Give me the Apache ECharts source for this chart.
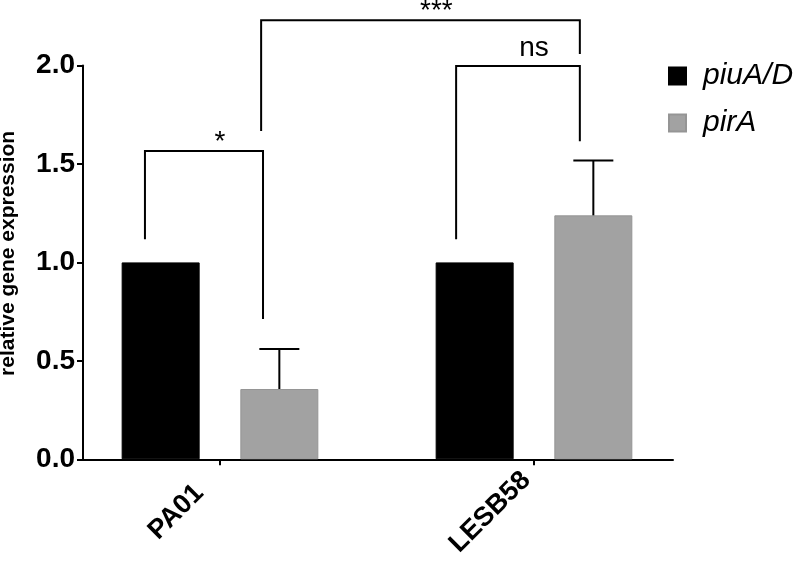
<!DOCTYPE html>
<html><head><meta charset="utf-8">
<script src="https://cdn.jsdelivr.net/npm/echarts@6/dist/echarts.min.js"></script>
<style>html,body{margin:0;padding:0;background:#fff}#c{width:800px;height:564px}</style>
</head><body><div id="c"></div>
<script>
// ---- data ----
const categories = ['PA01', 'LESB58'];
const seriesNames = ['piuA/D', 'pirA'];
const piuAD = [1.0, 1.0];
const piuADErr = [0, 0];
const pirA = [0.357, 1.239];
const pirAErr = [0.203, 0.279];
const yTickLabels = ['0.0', '0.5', '1.0', '1.5', '2.0'];
// significance brackets (x in category-index units, y in data units)
const sigText = ['*', 'ns', '***'];
const sigX1 = [-0.239, 0.752, 0.131];
const sigX2 = [0.137, 1.146, 1.146];
const sigTop = [1.566, 1.998, 2.23];
const sigLeg1 = [1.118, 1.118, 1.667];
const sigLeg2 = [0.712, 1.615, 2.058];
const sigTextX = [0, 1, 0.689];

// ---- layout constants ----
const FONT = 'Liberation Sans, Arial, Helvetica, sans-serif';
const barOffset = 0.189;
const colors = ['#000000', '#a2a2a2'];

const values = [piuAD, pirA];
const errs = [piuADErr, pirAErr];
const offs = [-barOffset, barOffset];

const barSeries = seriesNames.map((name, s) => ({
  name: name,
  type: 'bar',
  barWidth: 78,
  barGap: '-100%',
  itemStyle: { color: colors[s], borderColor: s === 1 ? '#959595' : '#000', borderWidth: 1 },
  data: categories.map((c, i) => [i + offs[s], values[s][i]]),
  z: 2
}));

const errData = [];
seriesNames.forEach((n, s) => categories.forEach((c, i) => {
  if (errs[s][i] > 0) errData.push([i + offs[s], values[s][i], errs[s][i]]);
}));

const errSeries = {
  type: 'custom',
  silent: true,
  z: 3,
  data: errData,
  renderItem: function (params, api) {
    const x = api.value(0), m = api.value(1), e = api.value(2);
    const p0 = api.coord([x, m]);
    const p1 = api.coord([x, m + e]);
    const st = { stroke: '#000', lineWidth: 2 };
    return {
      type: 'group',
      children: [
        { type: 'line', shape: { x1: p0[0], y1: p0[1], x2: p1[0], y2: p1[1] }, style: st },
        { type: 'line', shape: { x1: p1[0] - 20, y1: p1[1], x2: p1[0] + 20, y2: p1[1] }, style: st }
      ]
    };
  }
};

const sigData = sigText.map((t, k) => [sigX1[k], sigX2[k], sigTop[k], sigLeg1[k], sigLeg2[k], sigTextX[k], k]);
const sigSeries = {
  type: 'custom',
  silent: true,
  clip: false,
  z: 4,
  data: sigData,
  renderItem: function (params, api) {
    const x1 = api.value(0), x2 = api.value(1), top = api.value(2);
    const l1 = api.value(3), l2 = api.value(4), tx = api.value(5), k = api.value(6);
    const a = api.coord([x1, l1]);
    const b = api.coord([x1, top]);
    const c = api.coord([x2, top]);
    const d = api.coord([x2, l2]);
    const t = api.coord([tx, top]);
    const label = sigText[k];
    const isStar = label.indexOf('*') >= 0;
    return {
      type: 'group',
      children: [
        { type: 'polyline', shape: { points: [a, b, c, d] }, style: { stroke: '#000', lineWidth: 2, fill: null } },
        { type: 'text', x: t[0], y: t[1] + (isStar ? -9 : -18),
          style: { text: label, fill: '#000', font: '28px ' + FONT, align: 'center', verticalAlign: 'middle' } }
      ]
    };
  }
};

const chart = echarts.init(document.getElementById('c'), null, { renderer: 'canvas' });
chart.setOption({
  animation: false,
  backgroundColor: '#fff',
  grid: { left: 83, top: 65.5, width: 590, height: 393.8, containLabel: false, outerBoundsMode: 'none' },
  legend: {
    orient: 'vertical',
    left: 668, top: 61,
    padding: 0,
    itemWidth: 17, itemHeight: 17, itemGap: 17,
    icon: 'rect',
    data: seriesNames,
    textStyle: { fontSize: 30, fontStyle: 'italic', fontFamily: FONT, color: '#000', padding: [0, 0, 0, 12] }
  },
  xAxis: {
    type: 'value',
    min: -0.4363, max: 1.4427,
    splitLine: { show: false },
    axisLine: { show: true, onZero: false, lineStyle: { color: '#000', width: 2 } },
    axisTick: { show: true, customValues: [0, 1], length: 6, lineStyle: { color: '#000', width: 2 } },
    axisLabel: {
      customValues: [0, 1],
      rotate: 45, margin: 9,
      align: 'center', verticalAlign: 'middle',
      padding: [0, 124, 0, 0],
      formatter: function (v) { return categories[Math.round(v)]; },
      fontSize: 27, fontWeight: 'bold', fontFamily: FONT, color: '#000'
    }
  },
  yAxis: {
    type: 'value',
    min: 0, max: 2, interval: 0.5,
    name: 'relative gene expression',
    nameLocation: 'middle',
    nameRotate: 90,
    nameGap: 64,
    nameTextStyle: { fontSize: 21, fontWeight: 'bold', fontFamily: FONT, color: '#000', padding: [0, 0, 0, 18] },
    splitLine: { show: false },
    axisLine: { show: true, onZero: false, lineStyle: { color: '#000', width: 2 } },
    axisTick: { show: true, length: 6, lineStyle: { color: '#000', width: 2 } },
    axisLabel: {
      margin: 8,
      formatter: function (v) { return yTickLabels[Math.round(v / 0.5)]; },
      fontSize: 28, fontWeight: 'bold', fontFamily: FONT, color: '#000'
    }
  },
  series: barSeries.concat([errSeries, sigSeries])
});
</script></body></html>
